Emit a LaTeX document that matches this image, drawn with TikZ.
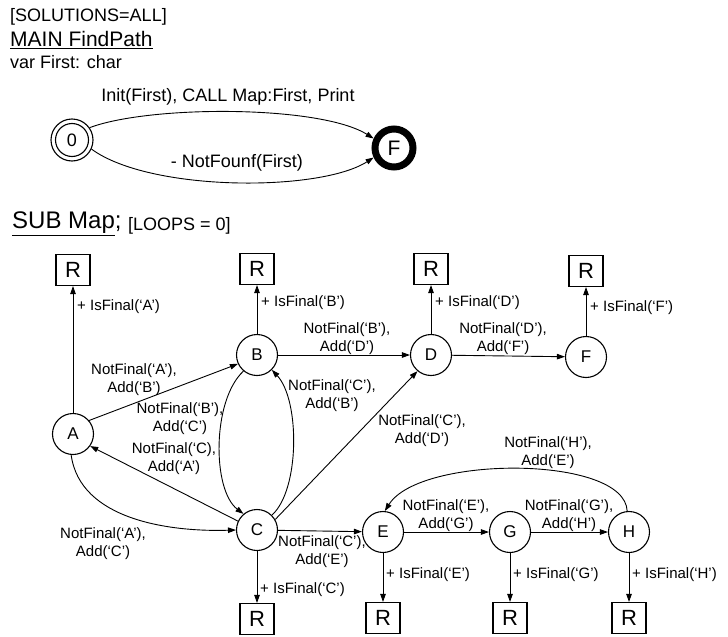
\documentclass[tikz,border=0pt]{standalone}
\usepackage{fontspec}
\setmainfont{Liberation Sans}
\usetikzlibrary{arrows.meta}
\begin{document}
\begin{tikzpicture}[x=1pt,y=-1pt,
  stnode/.style={circle,draw,line width=1.1pt,minimum size=41pt,inner sep=0pt,font=\fontsize{17}{17}\selectfont},
  rbox/.style={draw,line width=1.1pt,minimum width=34pt,minimum height=31pt,inner sep=0pt,font=\fontsize{22}{22}\selectfont},
  lbl/.style={font=\fontsize{15}{18}\selectfont,align=center,inner sep=0pt},
  toplbl/.style={font=\fontsize{18}{20}\selectfont,inner sep=0pt},
  conn/.style={line width=0.9pt,-{Triangle[length=8pt,width=5.5pt]}},
]
\useasboundingbox[fill=white] (0,0) rectangle (728,637);

% ---------- MAIN ----------
\node[toplbl,anchor=west] (sol) at (10,17) {[SOLUTIONS=ALL]};
\node[font=\fontsize{21}{21}\selectfont,anchor=west,inner sep=0pt] (main) at (10,40) {\underline{MAIN FindPath}};
\node[toplbl,anchor=west] (var) at (10,62) {var First: char};

\node[circle,draw,line width=1.1pt,minimum size=42pt,inner sep=0pt,font=\fontsize{18}{18}\selectfont] (n0) at (72,140) {0};
\draw[line width=1.1pt] (n0.center) circle[radius=16.5];
\node[circle,draw,line width=7pt,minimum size=38pt,inner sep=0pt,font=\fontsize{21}{21}\selectfont] (nF) at (394,148) {F};

\draw[conn] (n0.35) .. controls (150,105) and (320,105) .. (nF.155);
\draw[conn] (n0.-25) .. controls (150,192) and (320,192) .. (nF.-155);
\node[toplbl] (l1) at (228,97) {Init(First), CALL Map:First, Print};
\node[toplbl] (l2) at (237,163) {- NotFounf(First)};

% ---------- SUB ----------
\node[font=\fontsize{24}{24}\selectfont,anchor=west,inner sep=0pt] (sub) at (12,224) {\underline{SUB Map};};
\node[toplbl,anchor=west] (loops) at (128,226) {[LOOPS = 0]};

\node[stnode] (A) at (73,434) {A};
\node[stnode] (B) at (257,355) {B};
\node[stnode] (C) at (257,530) {C};
\node[stnode] (D) at (431,355) {D};
\node[stnode] (F2) at (586,357) {F};
\node[stnode] (E) at (383,532) {E};
\node[stnode] (G) at (510,532) {G};
\node[stnode] (H) at (629,532) {H};

\node[rbox] (RA) at (73,270) {R};
\node[rbox] (RB) at (257,269) {R};
\node[rbox] (RD) at (431,269) {R};
\node[rbox] (RF) at (586,271) {R};
\node[rbox] (RC) at (257,619) {R};
\node[rbox] (RE) at (383,618) {R};
\node[rbox] (RG) at (510,618) {R};
\node[rbox] (RH) at (629,618) {R};

% final edges
\draw[conn] (A) -- (RA);
\draw[conn] (B) -- (RB);
\draw[conn] (D) -- (RD);
\draw[conn] (F2) -- (RF);
\draw[conn] (C) -- (RC);
\draw[conn] (E) -- (RE);
\draw[conn] (G) -- (RG);
\draw[conn] (H) -- (RH);
\node[lbl,anchor=west] (fa) at (77,307) {+ IsFinal(‘A’)};
\node[lbl,anchor=west] (fb) at (261,303) {+ IsFinal(‘B’)};
\node[lbl,anchor=west] (fd) at (435,303) {+ IsFinal(‘D’)};
\node[lbl,anchor=west] (ff) at (590,308) {+ IsFinal(‘F’)};
\node[lbl,anchor=west] (fc) at (260,590) {+ IsFinal(‘C’)};
\node[lbl,anchor=west] (fe) at (386,575) {+ IsFinal(‘E’)};
\node[lbl,anchor=west] (fg) at (513,575) {+ IsFinal(‘G’)};
\node[lbl,anchor=west] (fh) at (632,575) {+ IsFinal(‘H’)};

% transitions
\draw[conn] (A.40) -- (B.205);
\node[lbl] (tab) at (134,380) {NotFinal(‘A’),\\Add(‘B’)};

\draw[conn] (B.-130) .. controls (212,400) and (212,490) .. (C.130);
\node[lbl] (tbc) at (180,419) {NotFinal(‘B’),\\Add(‘C’)};

\draw[conn] (C.45) .. controls (300,490) and (300,400) .. (B.-45);
\node[lbl] (tcb) at (332,396) {NotFinal(‘C’),\\Add(‘B’)};

\draw[conn] (C.155) -- (A.-35);
\node[lbl] (tca) at (174,459) {NotFinal(‘C),\\Add(‘A’)};

\draw[conn] (A.-95) .. controls (80,520) and (170,532) .. (C.180);
\node[lbl] (tac) at (103,544) {NotFinal(‘A’),\\Add(‘C’)};

\draw[conn] (B) -- (D);
\node[lbl] (tbd) at (347,339) {NotFinal(‘B’),\\Add(‘D’)};

\draw[conn] (D) -- (F2);
\node[lbl] (tdf) at (503,339) {NotFinal(‘D’),\\Add(‘F’)};

\draw[conn] (C.30) -- (D.-130);
\node[lbl] (tcd) at (422,431) {NotFinal(‘C’),\\Add(‘D’)};

\draw[conn] (C) -- (E);
\node[lbl] (tce) at (322,552) {NotFinal(‘C’),\\Add(‘E’)};

\draw[conn] (E) -- (G);
\node[lbl] (teg) at (446,516) {NotFinal(‘E’),\\Add(‘G’)};

\draw[conn] (G) -- (H);
\node[lbl] (tgh) at (569,516) {NotFinal(‘G’),\\Add(‘H’)};

\draw[conn] (H.95) .. controls (625,455) and (420,455) .. (E.85);
\node[lbl] (the) at (548,453) {NotFinal(‘H’),\\Add(‘E’)};
\end{tikzpicture}
\end{document}
